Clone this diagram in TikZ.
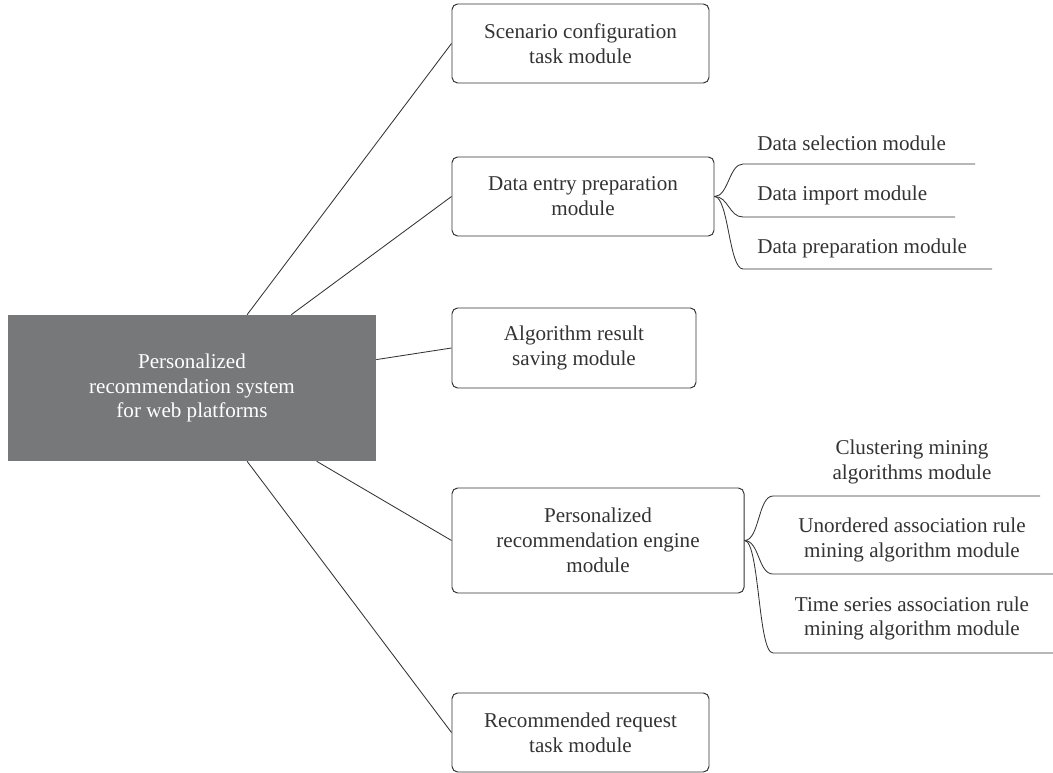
\documentclass[tikz,border=0pt]{standalone}
\usepackage{fontspec}
\setmainfont{Liberation Serif}
\definecolor{hubgray}{HTML}{77787A}
\definecolor{inkgray}{HTML}{333333}
\tikzset{
  module/.style={draw=inkgray,rounded corners=4pt,line width=0.7pt,align=center,text=inkgray,inner sep=0pt},
  hub/.style={fill=hubgray,align=center,text=white,inner sep=0pt},
  leaf/.style={align=center,text=inkgray,inner sep=0pt},
  link/.style={draw=inkgray,line width=0.6pt},
}
\begin{document}
\begin{tikzpicture}[x=0.025cm,y=-0.025cm,font=\fontsize{15}{17.7}\selectfont]
\useasboundingbox (0,0) rectangle (1053,773);
% main system and its modules
\node[hub,minimum width=368*0.025cm,minimum height=146*0.025cm] (sys) at (192,388) {Personalized\\recommendation system\\for web platforms};
\node[module,minimum width=257*0.025cm,minimum height=79*0.025cm] (scn) at (580.5,43.5) {Scenario configuration\\task module};
\node[module,minimum width=262*0.025cm,minimum height=79*0.025cm] (dep) at (583,196.5) {Data entry preparation\\module};
\node[module,minimum width=244*0.025cm,minimum height=80*0.025cm] (ars) at (574,348) {Algorithm result\\saving module};
\node[module,minimum width=292*0.025cm,minimum height=105*0.025cm] (pre) at (598,540.5) {Personalized\\recommendation engine\\module};
\node[module,minimum width=257*0.025cm,minimum height=79*0.025cm] (rrt) at (580.5,732.5) {Recommended request\\task module};
\draw[link] (sys) -- (scn.west);
\draw[link] (sys) -- (dep.west);
\draw[link] (sys) -- (ars.west);
\draw[link] (sys) -- (pre.west);
\draw[link] (sys) -- (rrt.west);
% data entry submodules
\node[leaf,anchor=west] (ds) at (757,143) {Data selection module};
\node[leaf,anchor=west] (di) at (757,195) {Data import module};
\node[leaf,anchor=west] (dp) at (757,248) {Data preparation module};
\coordinate (ds1) at (743,164); \coordinate (ds2) at (975,164);
\coordinate (di1) at (743,217); \coordinate (di2) at (955,217);
\coordinate (dp1) at (743,269); \coordinate (dp2) at (992,269);
\draw[link] (dep.east) .. controls +(14,0) and +(-14,0) .. (ds1) -- (ds2);
\draw[link] (dep.east) .. controls +(14,0) and +(-14,0) .. (di1) -- (di2);
\draw[link] (dep.east) .. controls +(14,0) and +(-14,0) .. (dp1) -- (dp2);
% engine submodules
\node[leaf] (cm) at (912,462) {Clustering mining\\algorithms module};
\node[leaf] (ua) at (912,540) {Unordered association rule\\mining algorithm module};
\node[leaf] (ts) at (912,618.5) {Time series association rule\\mining algorithm module};
\coordinate (cm1) at (773,496); \coordinate (cm2) at (1040,496);
\coordinate (ua1) at (773,574); \coordinate (ua2) at (1053,574);
\coordinate (ts1) at (773,653); \coordinate (ts2) at (1053,653);
\draw[link] (pre.east) .. controls +(15,0) and +(-15,0) .. (cm1) -- (cm2);
\draw[link] (pre.east) .. controls +(15,0) and +(-15,0) .. (ua1) -- (ua2);
\draw[link] (pre.east) .. controls +(15,0) and +(-15,0) .. (ts1) -- (ts2);
\end{tikzpicture}
\end{document}
